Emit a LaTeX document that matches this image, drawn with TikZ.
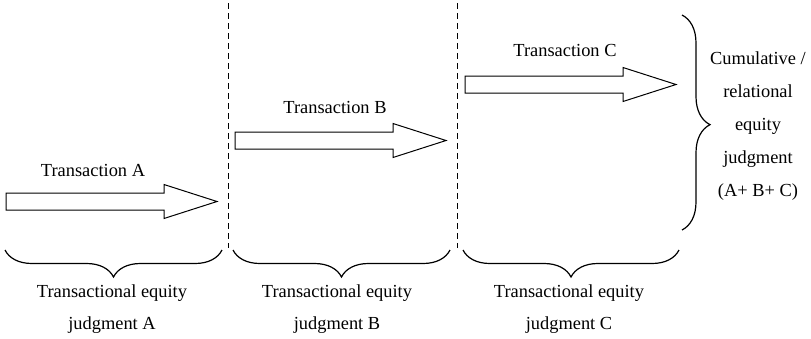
\documentclass[tikz,border=0pt]{standalone}
\usepackage{fontspec}
\setmainfont{Liberation Serif}
\usetikzlibrary{decorations.pathreplacing}

\begin{document}
\begin{tikzpicture}[x=1pt,y=-1pt,
  txt/.style={inner sep=0pt,align=center,font=\fontsize{18.4}{32}\selectfont},
  divider/.style={draw=black,line width=0.9pt,dash pattern=on 6pt off 4pt},
  bracket/.style={draw=black,line width=1.2pt,decorate,
    decoration={brace,amplitude=27pt,aspect=0.5}},
  arrowline/.style={draw=black,line width=1pt,fill=white},
  pics/blockarrow/.style={code={
    \draw[arrowline] (0,-8.5) -- (158,-8.5) -- (158,-17) -- (211,0)
      -- (158,17) -- (158,8.5) -- (0,8.5) -- cycle;}}]

\useasboundingbox (0,0) rectangle (811,338);

% period dividers
\coordinate (d1top) at (228,3);  \coordinate (d1bot) at (228,248);
\coordinate (d2top) at (457,3);  \coordinate (d2bot) at (457,248);
\draw[divider] (d1top) -- (d1bot);
\draw[divider] (d2top) -- (d2bot);

% transactions
\pic at (6,201.5)  {blockarrow};
\pic at (235,140.5) {blockarrow};
\pic at (465,84.5)  {blockarrow};
\node[txt] (ta) at (93,170) {Transaction A};
\node[txt] (tb) at (335,107) {Transaction B};
\node[txt] (tc) at (565,50)  {Transaction C};

% transactional judgments
\coordinate (ba1) at (222,250); \coordinate (ba2) at (5,250);
\coordinate (bb1) at (450,250); \coordinate (bb2) at (233,250);
\coordinate (bc1) at (679,250); \coordinate (bc2) at (463,250);
\draw[bracket] (ba1) -- (ba2);
\draw[bracket] (bb1) -- (bb2);
\draw[bracket] (bc1) -- (bc2);
\node[txt] (ja) at (112,309) {Transactional equity\\judgment A};
\node[txt] (jb) at (337,309) {Transactional equity\\judgment B};
\node[txt] (jc) at (569,309) {Transactional equity\\judgment C};

% cumulative judgment
\coordinate (br1) at (682,15); \coordinate (br2) at (682,230);
\draw[bracket,decoration={brace,amplitude=28pt,aspect=0.51}] (br1) -- (br2);
\node[txt,font=\fontsize{18.4}{33}\selectfont] (cum) at (758,126)
  {Cumulative /\\relational\\equity\\judgment\\(A+ B+ C)};

\end{tikzpicture}
\end{document}
